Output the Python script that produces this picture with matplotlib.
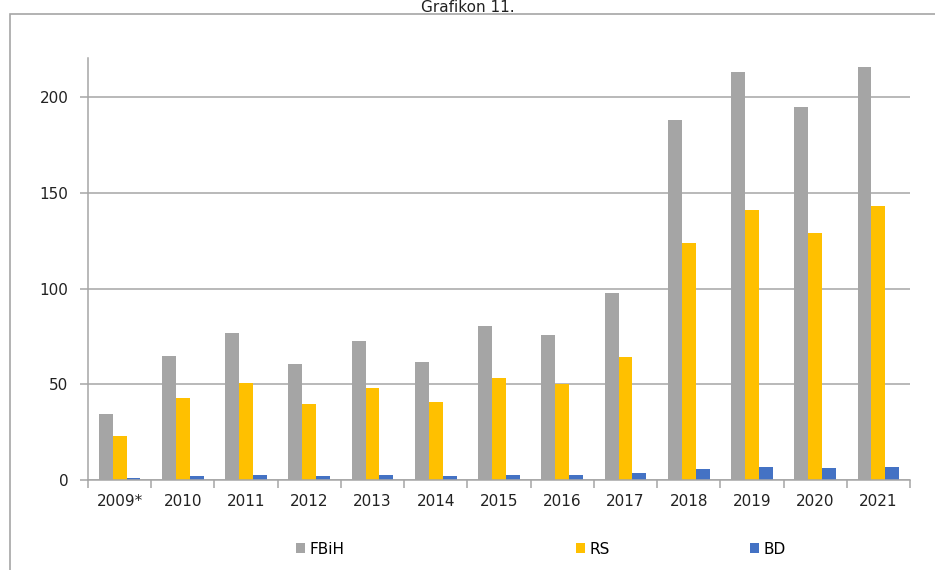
import numpy as np
import matplotlib.pyplot as plt
from matplotlib.patches import Rectangle

years = ['2009*', '2010', '2011', '2012', '2013', '2014', '2015',
         '2016', '2017', '2018', '2019', '2020', '2021']
fbih = [34.5, 64.7, 76.7, 60.5, 72.5, 61.5, 80.3, 75.6, 97.5, 188.3, 213.2, 195, 216]
rs = [23, 42.8, 50.6, 39.6, 48, 40.7, 53.2, 50, 64.2, 124, 141, 129, 143]
bd = [1, 2, 2.5, 2, 2.5, 2, 2.5, 2.5, 3.5, 6, 7, 6.5, 7]

fig = plt.figure(figsize=(9.35, 5.7), dpi=100)
ax = fig.add_axes([88/935, 1-480/570, 822/935, 422/570])

# outer chart frame
fig.patches.append(Rectangle((9.5/935, -0.1), 2, 1.1 - 14.5/570,
                             transform=fig.transFigure, fill=False,
                             edgecolor='#a6a6a6', linewidth=1.2))
fig.text(0.5, 1-12.5/570, 'Grafikon 11.', ha='center', va='baseline',
         fontsize=11, color='#222222')

x = np.arange(len(years))
w = 0.22
b1 = ax.bar(x - w, fbih, w, color='#a5a5a5', label='FBiH')
b2 = ax.bar(x, rs, w, color='#ffc000', label='RS')
b3 = ax.bar(x + w, bd, w, color='#4472c4', label='BD')

ax.set_xlim(-0.5, len(years) - 0.5)
ax.set_ylim(0, 220.5)
ax.set_yticks([0, 50, 100, 150, 200])
ax.yaxis.grid(True, color='#a6a6a6', linewidth=1.1)
ax.set_axisbelow(True)

for s in ['top', 'right']:
    ax.spines[s].set_visible(False)
for s in ['left', 'bottom']:
    ax.spines[s].set_color('#a6a6a6')
    ax.spines[s].set_linewidth(1.1)

ax.set_xticks(x)
ax.set_xticklabels(years)
ax.set_xticks(np.arange(-0.5, len(years)), minor=True)
ax.tick_params(axis='x', which='major', length=0, pad=10, labelsize=11, labelcolor='#222222')
ax.tick_params(axis='x', which='minor', length=6, color='#a6a6a6', width=1.1)
ax.tick_params(axis='y', length=6, color='#a6a6a6', width=1.1, pad=8,
               labelsize=11, labelcolor='#222222')

# legend entries are spaced unevenly, so each one gets its own legend
for h, lab, xpos in [(b1, 'FBiH', 296), (b2, 'RS', 576), (b3, 'BD', 750)]:
    fig.legend([h], [lab], loc='center left', bbox_to_anchor=(xpos/935, 1-549/570),
               frameon=False, fontsize=11, handlelength=0.6, handleheight=0.6,
               handletextpad=0.3, borderpad=0, borderaxespad=0)

fig.savefig('out.png', dpi=100)
